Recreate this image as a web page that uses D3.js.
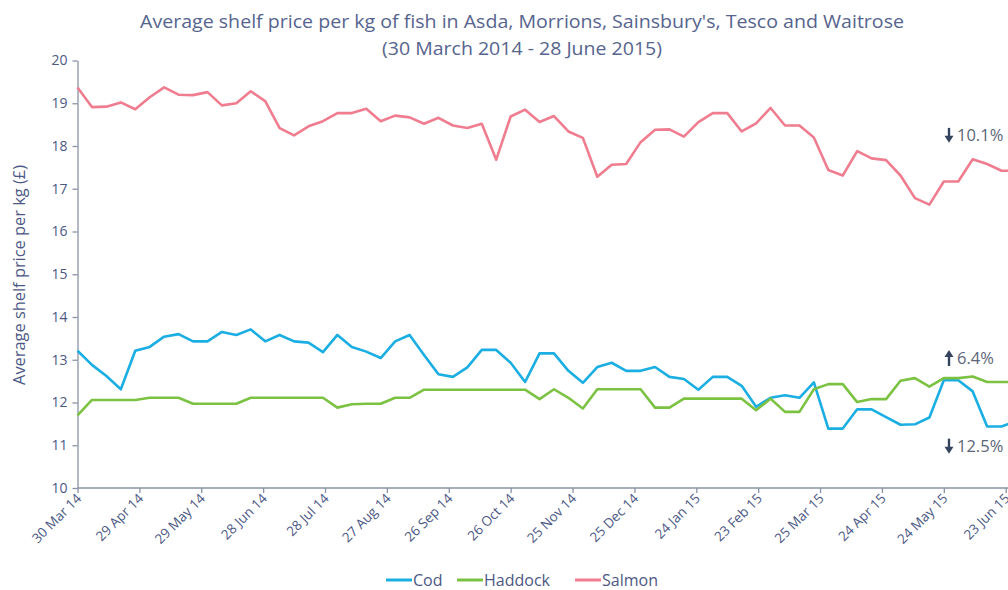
<!DOCTYPE html>
<html><head><meta charset="utf-8">
<script src="https://cdn.jsdelivr.net/npm/d3@7"></script>
<style>
body{margin:0;background:#fff;}
text{font-family:"Open Sans",sans-serif;}
</style></head>
<body>
<svg id="chart" width="1008" height="590"></svg>
<script>
const startDate = "2014-03-30";
const nWeeks = 66;
const tickLabels = ["30 Mar 14","29 Apr 14","29 May 14","28 Jun 14","28 Jul 14","27 Aug 14","26 Sep 14","26 Oct 14","25 Nov 14","25 Dec 14","24 Jan 15","23 Feb 15","25 Mar 15","24 Apr 15","24 May 15","23 Jun 15"];
const yTicks = [10,11,12,13,14,15,16,17,18,19,20];
const seriesNames = ["Cod","Haddock","Salmon"];
const cod = [13.21,12.88,12.62,12.31,13.21,13.30,13.54,13.60,13.43,13.43,13.65,13.58,13.71,13.43,13.58,13.43,13.40,13.18,13.58,13.30,13.19,13.04,13.43,13.58,13.11,12.66,12.60,12.82,13.23,13.23,12.93,12.48,13.15,13.15,12.74,12.46,12.83,12.93,12.74,12.74,12.83,12.60,12.55,12.30,12.60,12.60,12.39,11.90,12.11,12.17,12.11,12.47,11.39,11.39,11.84,11.84,11.66,11.48,11.49,11.65,12.52,12.52,12.26,11.44,11.44,11.56];
const haddock = [11.70,12.06,12.06,12.06,12.06,12.11,12.11,12.11,11.97,11.97,11.97,11.97,12.11,12.11,12.11,12.11,12.11,12.11,11.88,11.96,11.97,11.97,12.11,12.11,12.30,12.30,12.30,12.30,12.30,12.30,12.30,12.30,12.08,12.31,12.11,11.86,12.31,12.31,12.31,12.31,11.88,11.88,12.09,12.09,12.09,12.09,12.09,11.82,12.09,11.78,11.78,12.31,12.43,12.43,12.01,12.08,12.08,12.51,12.57,12.37,12.57,12.57,12.61,12.48,12.48,12.48];
const salmon = [19.37,18.91,18.92,19.02,18.86,19.14,19.37,19.20,19.19,19.26,18.95,19.00,19.28,19.05,18.42,18.25,18.46,18.58,18.77,18.77,18.87,18.58,18.71,18.67,18.52,18.66,18.48,18.42,18.52,17.68,18.69,18.85,18.56,18.70,18.34,18.19,17.28,17.56,17.58,18.09,18.38,18.39,18.22,18.56,18.77,18.77,18.34,18.53,18.89,18.48,18.48,18.20,17.44,17.31,17.88,17.71,17.67,17.31,16.78,16.63,17.17,17.17,17.69,17.58,17.42,17.42];
const changeLabels = ["10.1%","6.4%","12.5%"];
const changeDirs = ["down","up","down"];
const changeAnchors = [18.12, 12.9, 10.85];

const colors = {Cod:"#1aaee3", Haddock:"#7cc242", Salmon:"#ef7d8f"};
const axisColor = "#8a93a5";
const textColor = "#4c5884";

const svg = d3.select("#chart");
const parse = d3.utcParse("%Y-%m-%d");
const d0 = parse(startDate);
const dates = d3.range(nWeeks).map(i => d3.utcDay.offset(d0, 7*i));
const tickDates = tickLabels.map((t,i) => d3.utcDay.offset(d0, 30*i));

const x = d3.scaleUtc().domain([d0, tickDates[tickDates.length-1]]).range([77.5, 1005.7]);
const y = d3.scaleLinear().domain([10,20]).range([488, 60.5]);

// title
svg.append("text").attr("x",522).attr("y",28).attr("text-anchor","middle")
  .attr("fill","#56648e").style("font-size","17.5px").attr("textLength",764).attr("lengthAdjust","spacingAndGlyphs")
  .text("Average shelf price per kg of fish in Asda, Morrions, Sainsbury's, Tesco and Waitrose");
svg.append("text").attr("x",522).attr("y",55).attr("text-anchor","middle")
  .attr("fill","#56648e").style("font-size","17.5px").attr("textLength",280).attr("lengthAdjust","spacingAndGlyphs")
  .text("(30 March 2014 - 28 June 2015)");

// y label
svg.append("text").attr("transform","translate(25,275) rotate(-90)").attr("text-anchor","middle")
  .attr("fill",textColor).style("font-size","16px").attr("textLength",220).attr("lengthAdjust","spacingAndGlyphs")
  .text("Average shelf price per kg (£)");

// axes
const yAxis = svg.append("g").attr("transform","translate(77.5,0)")
  .call(d3.axisLeft(y).tickValues(yTicks).tickSize(5).tickSizeOuter(0).tickFormat(d3.format("d")));
yAxis.selectAll("text").attr("fill",textColor).style("font-size","14px").attr("x",-10);

const xAxis = svg.append("g").attr("transform","translate(0,488)")
  .call(d3.axisBottom(x).tickValues(tickDates).tickSize(5).tickSizeOuter(0).tickFormat((d,i)=>tickLabels[i]));
xAxis.select(".domain").attr("d","M77.5,0H1010");
xAxis.selectAll("text").attr("fill",textColor).style("font-size","13.5px")
  .attr("text-anchor","end").attr("transform","rotate(-45)").attr("x",-5).attr("y",11).attr("dy","0");

svg.selectAll(".domain, .tick line").attr("stroke",axisColor).attr("stroke-width",1.3);

// lines
const series = [["Cod",cod],["Haddock",haddock],["Salmon",salmon]];
const line = d3.line().x((d,i)=>x(dates[i])).y(d=>y(d));
series.forEach(([name,vals])=>{
  svg.append("path").datum(vals).attr("d",line).attr("fill","none")
    .attr("stroke",colors[name]).attr("stroke-width",2.6).attr("stroke-linejoin","round");
});

// change annotations
changeLabels.forEach((lab,i)=>{
  const yy = y(changeAnchors[i]);
  const g = svg.append("g").attr("transform",`translate(949,${yy})`);
  const up = changeDirs[i]==="up";
  g.append("line").attr("x1",0).attr("x2",0).attr("y1",up?2:-13).attr("y2",up?-8:-3)
    .attr("stroke","#34445e").attr("stroke-width",2.4);
  g.append("path").attr("d", up ? "M-4.5,-7 L4.5,-7 L0,-14 Z" : "M-4.5,-5 L4.5,-5 L0,2 Z").attr("fill","#34445e");
  g.append("text").attr("x",8).attr("y",0).attr("fill","#5b6677").style("font-size","16.5px").text(lab);
});

// legend
const legendX = [386, 457, 575];
series.forEach(([name],i)=>{
  svg.append("line").attr("x1",legendX[i]).attr("x2",legendX[i]+26).attr("y1",580).attr("y2",580)
    .attr("stroke",colors[name]).attr("stroke-width",3);
  svg.append("text").attr("x",legendX[i]+27).attr("y",586).attr("fill",textColor).style("font-size","16px").text(name);
});
</script>
</body></html>
